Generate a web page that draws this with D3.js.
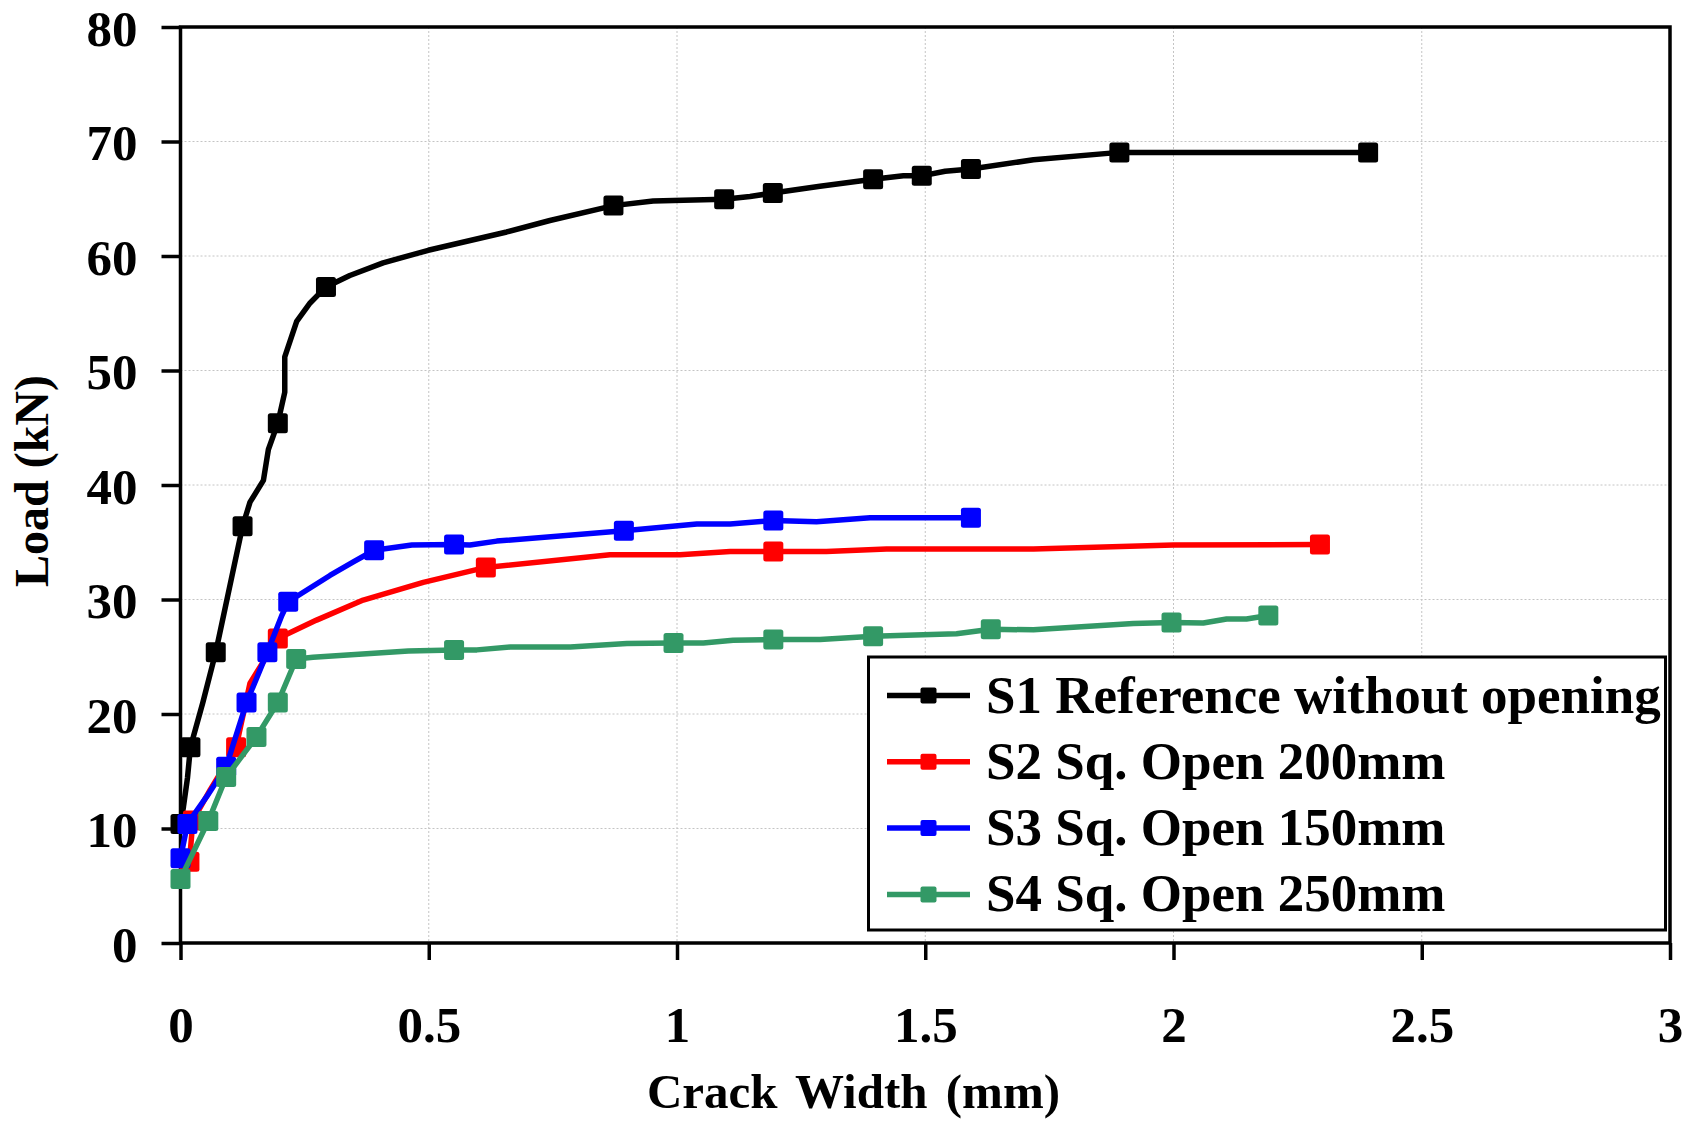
<!DOCTYPE html>
<html>
<head>
<meta charset="utf-8">
<script src="https://cdn.jsdelivr.net/npm/d3@7"></script>
<style>
  html, body { margin: 0; padding: 0; background: #fff; }
  svg { display: block; }
  text { font-family: "Liberation Serif", "Times New Roman", serif; font-weight: bold; fill: #000; }
</style>
</head>
<body>
<svg id="chart" width="1696" height="1121"></svg>
<script>
// Load vs. crack width for the four slab specimens
const seriesNames = [
  "S1 Reference without opening",
  "S2 Sq. Open 200mm",
  "S3 Sq. Open 150mm",
  "S4 Sq. Open 250mm"
];
const seriesColors = ["#000000", "#FF0000", "#0000FF", "#339966"];

// S1 – reference slab (marked = 1 where a square marker is drawn)
const s1Width  = [0, 0.006, 0.014, 0.02, 0.045, 0.071, 0.125, 0.14, 0.167, 0.177, 0.196, 0.21, 0.21, 0.234, 0.261, 0.293, 0.341, 0.408, 0.499, 0.657, 0.744, 0.872, 0.952, 1.095, 1.147, 1.193, 1.288, 1.395, 1.456, 1.493, 1.54, 1.592, 1.718, 1.891, 2.392];
const s1Load   = [10.4, 11.9, 14.4, 17.1, 21.0, 25.4, 36.4, 38.5, 40.4, 43.1, 45.4, 48.1, 51.2, 54.3, 55.9, 57.3, 58.3, 59.4, 60.5, 62.1, 63.1, 64.4, 64.8, 64.95, 65.2, 65.5, 66.1, 66.7, 67.0, 67.0, 67.4, 67.6, 68.4, 69.05, 69.05];
const s1Marked = [1, 0, 0, 1, 0, 1, 1, 0, 0, 0, 1, 0, 0, 0, 0, 1, 0, 0, 0, 0, 0, 1, 0, 1, 0, 1, 0, 1, 0, 1, 0, 1, 0, 1, 1];

// S2 – 200 mm square opening
const s2Width  = [0.018, 0.025, 0.06, 0.112, 0.14, 0.196, 0.274, 0.368, 0.489, 0.615, 0.865, 1.006, 1.107, 1.194, 1.301, 1.422, 1.718, 2.0, 2.295];
const s2Load   = [7.1, 10.7, 13.4, 17.1, 22.7, 26.6, 28.2, 29.95, 31.5, 32.8, 33.9, 33.9, 34.2, 34.2, 34.2, 34.4, 34.4, 34.75, 34.8];
const s2Marked = [1, 1, 0, 1, 0, 1, 0, 0, 0, 1, 0, 0, 0, 1, 0, 0, 0, 0, 1];

// S3 – 150 mm square opening
const s3Width  = [0, 0.014, 0.053, 0.092, 0.133, 0.175, 0.204, 0.217, 0.301, 0.349, 0.39, 0.466, 0.551, 0.583, 0.637, 0.893, 1.04, 1.107, 1.194, 1.281, 1.389, 1.592];
const s3Load   = [7.4, 10.4, 12.8, 15.4, 21.0, 25.4, 28.6, 29.8, 32.1, 33.3, 34.3, 34.76, 34.8, 34.76, 35.1, 36.0, 36.6, 36.6, 36.9, 36.8, 37.15, 37.15];
const s3Marked = [1, 1, 0, 1, 1, 1, 0, 1, 0, 0, 1, 0, 1, 0, 0, 1, 0, 0, 1, 0, 0, 1];

// S4 – 250 mm square opening
const s4Width  = [0, 0.056, 0.092, 0.153, 0.196, 0.233, 0.267, 0.459, 0.551, 0.597, 0.664, 0.785, 0.899, 0.993, 1.053, 1.113, 1.194, 1.288, 1.395, 1.563, 1.632, 1.718, 1.919, 1.996, 2.06, 2.107, 2.147, 2.191];
const s4Load   = [5.6, 10.65, 14.5, 18.0, 21.0, 24.8, 24.95, 25.5, 25.6, 25.6, 25.85, 25.85, 26.15, 26.2, 26.2, 26.45, 26.5, 26.5, 26.8, 27.0, 27.4, 27.35, 27.9, 28.0, 27.95, 28.3, 28.3, 28.6];
const s4Marked = [1, 1, 1, 1, 1, 1, 0, 0, 1, 0, 0, 0, 0, 1, 0, 0, 1, 0, 1, 0, 1, 0, 0, 1, 0, 0, 0, 1];

// Axis ticks
const xTickValues = [0, 0.5, 1, 1.5, 2, 2.5, 3];
const xTickLabels = ["0", "0.5", "1", "1.5", "2", "2.5", "3"];
const yTickValues = [0, 10, 20, 30, 40, 50, 60, 70, 80];
const yTickLabels = ["0", "10", "20", "30", "40", "50", "60", "70", "80"];

const xTitle = "Crack Width (mm)";
const yTitle = "Load (kN)";

// Assemble series records
const widths = [s1Width, s2Width, s3Width, s4Width];
const loads  = [s1Load, s2Load, s3Load, s4Load];
const marks  = [s1Marked, s2Marked, s3Marked, s4Marked];
const series = seriesNames.map((name, i) => ({
  name,
  color: seriesColors[i],
  points: widths[i].map((w, j) => ({ w, load: loads[i][j], marked: marks[i][j] === 1 }))
}));

const svg = d3.select("#chart");
const plot = { left: 180.5, right: 1670, top: 27, bottom: 943 };

const x = d3.scaleLinear().domain([0, 3]).range([plot.left, plot.right]);
const y = d3.scaleLinear().domain([0, 80]).range([plot.bottom, plot.top]);

// Dotted grid
const grid = svg.append("g").attr("stroke", "#c4c4c4").attr("stroke-width", 1).attr("stroke-dasharray", "2,2");
grid.selectAll("line.v").data(xTickValues.slice(1, -1)).join("line")
  .attr("x1", d => x(d)).attr("x2", d => x(d))
  .attr("y1", plot.top).attr("y2", plot.bottom);
grid.selectAll("line.h").data(yTickValues.slice(1, -1)).join("line")
  .attr("x1", plot.left).attr("x2", plot.right)
  .attr("y1", d => y(d)).attr("y2", d => y(d));

// Axes
const yAxis = d3.axisLeft(y)
  .tickValues(yTickValues)
  .tickFormat((d, i) => yTickLabels[i])
  .tickSize(19)
  .tickPadding(24);
const xAxis = d3.axisBottom(x)
  .tickValues(xTickValues)
  .tickFormat((d, i) => xTickLabels[i])
  .tickSize(17)
  .tickPadding(46);

const gy = svg.append("g").attr("transform", `translate(${plot.left},0)`).call(yAxis);
const gx = svg.append("g").attr("transform", `translate(0,${plot.bottom})`).call(xAxis);
[gx, gy].forEach(g => {
  g.select(".domain").remove();
  g.selectAll(".tick line").attr("stroke", "#000").attr("stroke-width", 3.5);
  g.selectAll(".tick text")
    .style("font-family", "'Liberation Serif', 'Times New Roman', serif")
    .style("font-weight", "bold")
    .style("font-size", "51px")
    .attr("fill", "#000");
});
gy.selectAll(".tick text").attr("dy", "0.36em");

// Plot frame
svg.append("rect")
  .attr("x", plot.left).attr("y", plot.top)
  .attr("width", plot.right - plot.left).attr("height", plot.bottom - plot.top)
  .attr("fill", "none").attr("stroke", "#000").attr("stroke-width", 3.5);

// Series lines and markers
const line = d3.line().x(d => x(d.w)).y(d => y(d.load)).curve(d3.curveLinear);
const markerSize = 20;
series.forEach(s => {
  const g = svg.append("g");
  g.append("path")
    .datum(s.points)
    .attr("d", line)
    .attr("fill", "none")
    .attr("stroke", s.color)
    .attr("stroke-width", 5.5)
    .attr("stroke-linejoin", "round")
    .attr("stroke-linecap", "round");
  g.selectAll("rect").data(s.points.filter(p => p.marked)).join("rect")
    .attr("x", d => x(d.w) - markerSize / 2)
    .attr("y", d => y(d.load) - markerSize / 2)
    .attr("width", markerSize).attr("height", markerSize)
    .attr("rx", 2.5)
    .attr("fill", s.color);
});

// Legend
const legend = svg.append("g");
legend.append("rect")
  .attr("x", 868.5).attr("y", 657).attr("width", 797).attr("height", 273)
  .attr("fill", "#fff").attr("stroke", "#000").attr("stroke-width", 3);
series.forEach((s, i) => {
  const cy = 695.5 + i * 66.3;
  legend.append("line")
    .attr("x1", 887).attr("x2", 970).attr("y1", cy).attr("y2", cy)
    .attr("stroke", s.color).attr("stroke-width", 5.5);
  legend.append("rect")
    .attr("x", 928.5 - 8).attr("y", cy - 8).attr("width", 16).attr("height", 16)
    .attr("rx", 2).attr("fill", s.color);
  legend.append("text")
    .attr("x", 986).attr("y", cy + 17)
    .style("font-size", "53px")
    .text(s.name);
});

// Axis titles
svg.append("text")
  .attr("x", 853.5).attr("y", 1108)
  .attr("text-anchor", "middle")
  .style("font-size", "49px")
  .style("word-spacing", "6px")
  .text(xTitle);
svg.append("text")
  .attr("transform", "translate(48,481) rotate(-90)")
  .attr("text-anchor", "middle")
  .style("font-size", "48px")
  .text(yTitle);
</script>
</body>
</html>
